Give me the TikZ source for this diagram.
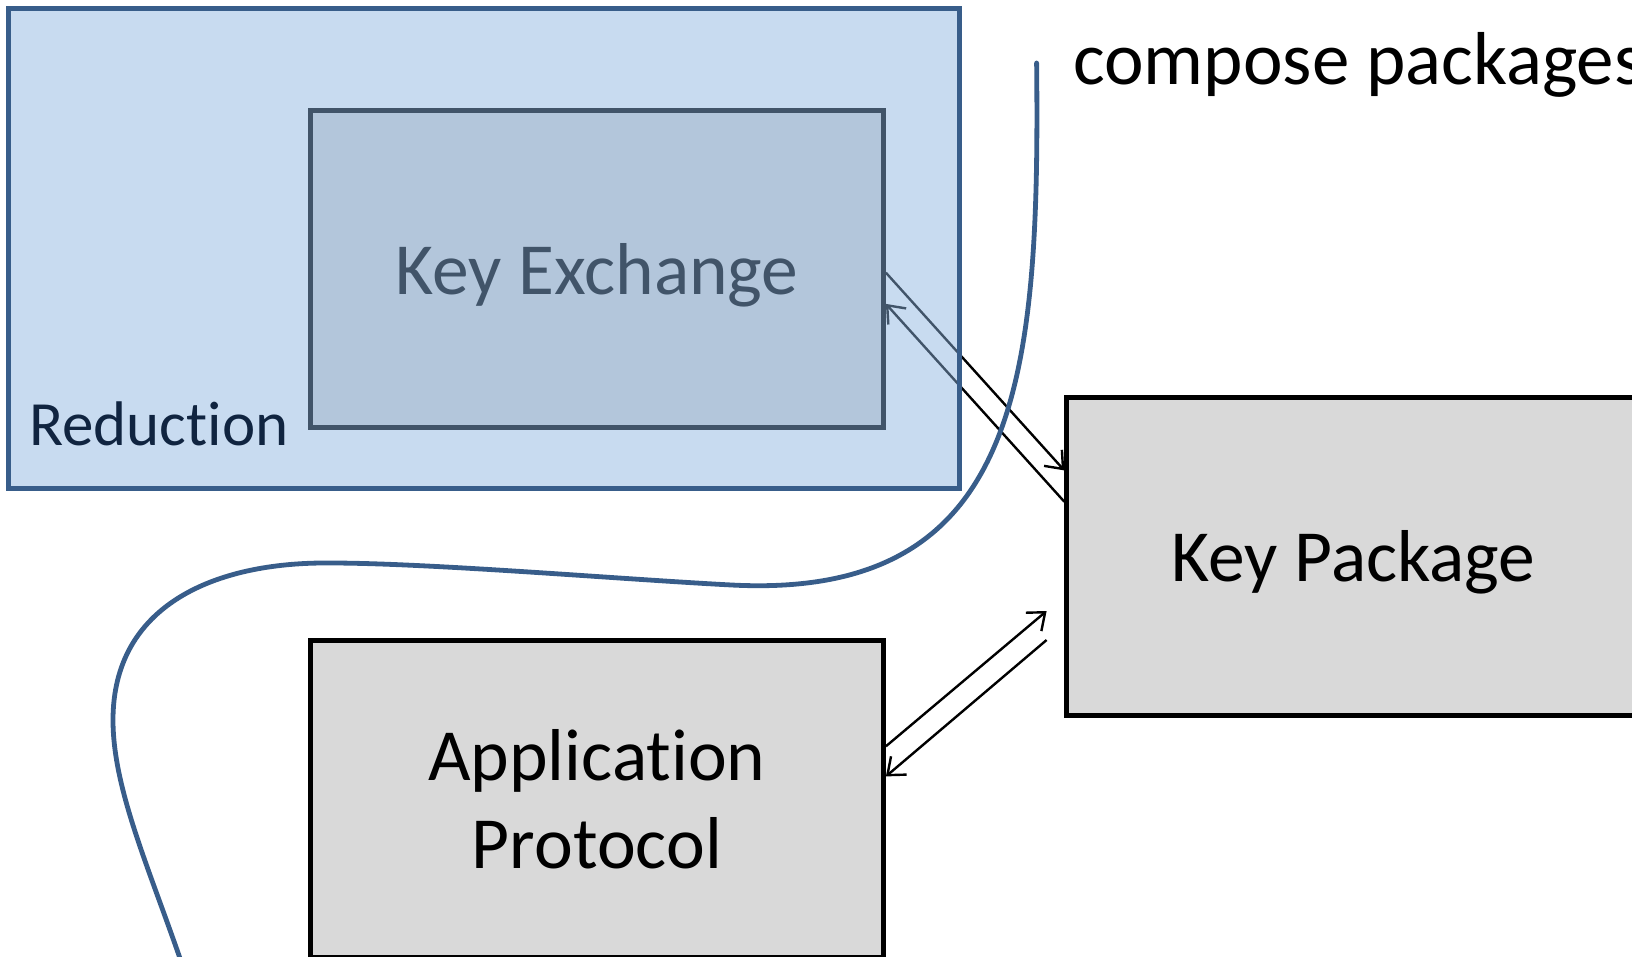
\documentclass[tikz,border=0pt]{standalone}
\usepackage{fontspec}
\setmainfont{Carlito}[Ligatures=NoCommon]
\usetikzlibrary{arrows.meta}
\definecolor{ovl}{RGB}{139,179,223}
\definecolor{redborder}{RGB}{56,93,138}
\definecolor{boxgray}{RGB}{217,217,217}
\definecolor{redtext}{RGB}{16,36,64}
\begin{document}
\begin{tikzpicture}[x=1pt,y=-1pt,
  pbox/.style={draw=black, line width=5pt, fill=boxgray, minimum width=573pt,
    minimum height=317.5pt, inner sep=0pt},
  boxtext/.style={anchor=base, inner sep=0pt, align=center, font=\fontsize{73.5}{88}\selectfont},
  conn/.style={line width=2.4pt, -{Straight Barb[length=15pt,width=24pt]}},
  redbox/.style={draw=redborder, line width=5pt, fill=ovl, fill opacity=0.474,
    minimum width=951.3pt, minimum height=479.8pt, inner sep=0pt},
  wave/.style={draw=redborder, line width=4.8pt, line cap=round}
]
\useasboundingbox (0,0) rectangle (1632,957);
\clip (0,0) rectangle (1632,957);
% boxes
\node[pbox] (ke) at (596.9,269) {};
\node[boxtext] (ketext) at ([yshift=-26pt]ke.center) {Key Exchange};
\node[pbox] (kp) at (1353.3,556.3) {};
\node[boxtext] (kptext) at ([yshift=-24.7pt]kp.center) {Key Package};
\node[pbox] (ap) at (596.9,798.9) {};
\node[boxtext] (aptext) at ([yshift=-69.1pt]ap.center) {Application\\Protocol};
% connectors
\draw[conn] ([yshift=-3.7pt]ke.east) -- ([yshift=85.9pt]kp.west);
\draw[conn] ([yshift=54.6pt]kp.west) -- ([yshift=-34.9pt]ke.east);
\coordinate (a3end) at ([xshift=-17.7pt,yshift=-54.7pt]kp.west);
\coordinate (a4start) at ([xshift=-17.7pt,yshift=-83.7pt]kp.west);
\draw[conn] ([yshift=52.6pt]ap.east) -- (a3end);
\draw[conn] (a4start) -- ([yshift=22.5pt]ap.east);
% reduction overlay
\node[redbox] (red) at (484,248.2) {};
\node[anchor=base west, inner sep=0pt, text=redtext, font=\fontsize{63}{75}\selectfont] (redlabel) at (29,445.5) {Reduction};
% wavy line
\draw[wave] (1036.6,63) .. controls (1040,380) and (1020,600) .. (731.5,585)
  .. controls (620,579.2) and (430,563) .. (329.6,563)
  .. controls (215,562) and (113,605) .. (113,720)
  .. controls (113,790) and (150,870) .. (184,970);
% text
\node[anchor=base west, inner sep=0pt, font=\fontsize{75}{90}\selectfont] (cp) at (1073,85) {compose packages};
\end{tikzpicture}
\end{document}
